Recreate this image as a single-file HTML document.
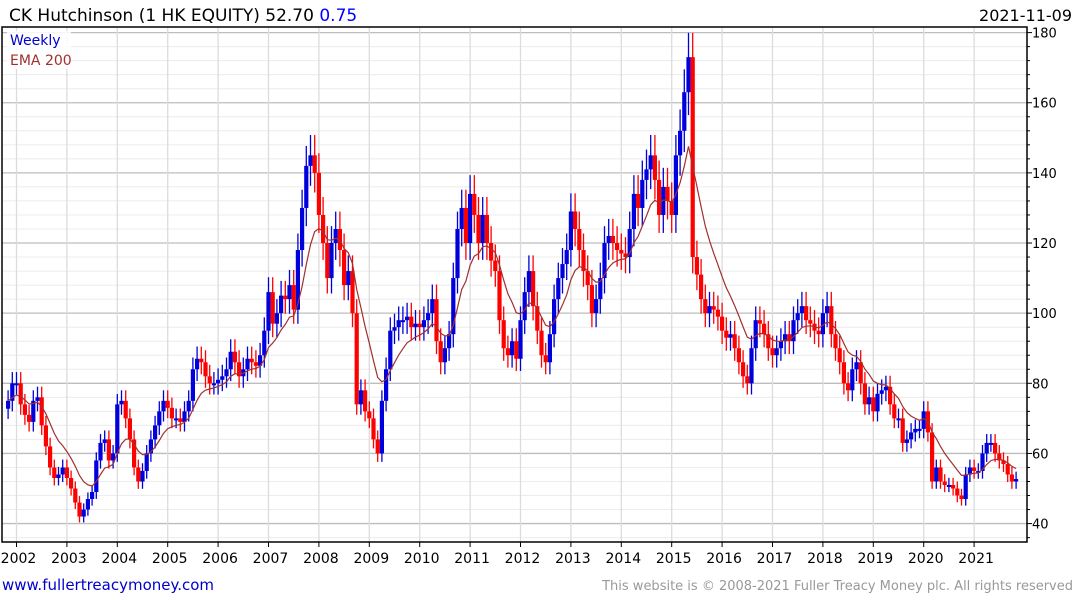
<!DOCTYPE html>
<html><head><meta charset="utf-8"><style>
body{margin:0;background:#fff;}
svg{display:block;font-family:"DejaVu Sans","Liberation Sans",sans-serif;}
</style></head><body>
<svg id="chart" width="1075" height="600" viewBox="0 0 1075 600" xmlns="http://www.w3.org/2000/svg">
<text x="9" y="21" font-size="17" fill="#000">CK Hutchinson (1 HK EQUITY) 52.70 <tspan fill="#0000ff">0.75</tspan></text>
<text x="1072" y="21" font-size="16" text-anchor="end" fill="#000">2021-11-09</text>
<g id="grid"></g>
<g id="bars"></g>
<g id="ema"></g>
<g id="axes"></g>
<rect x="7" y="31" width="64" height="38" fill="#fff" opacity="0.85"/>
<text x="10" y="45" font-size="14" fill="#0000cc">Weekly</text>
<text x="10" y="65" font-size="14" fill="#a03030">EMA 200</text>
<text x="2" y="590" font-size="15" fill="#0000cc">www.fullertreacymoney.com</text>
<text x="1073" y="590" font-size="13" text-anchor="end" fill="#999">This website is © 2008-2021 Fuller Treacy Money plc. All rights reserved</text>
</svg>
<script>
// monthly closes from Nov 2001 to Nov 2021
const startYear = 2001, startMonth = 10; // Nov (0-based)
const closes = [
75,80,
80,74,71,69,75,76,68,62,56,53,54,56,
53,50,46,42,44,47,49,58,63,64,58,60,
74,75,70,64,56,52,55,60,64,68,72,75,
73,70,70,69,72,75,84,87,86,82,80,80,
81,82,84,89,86,82,84,87,86,85,88,95,
106,97,100,105,104,108,101,118,130,142,145,140,
128,120,110,120,124,118,108,112,100,74,78,72,
70,64,60,75,84,95,96,98,98,99,96,97,
96,98,100,104,92,86,90,94,110,124,130,120,
134,128,120,128,120,115,112,98,90,88,92,87,
98,106,112,102,95,88,86,94,104,110,114,118,
129,124,118,112,108,100,104,110,120,122,120,118,
117,116,124,134,130,138,141,145,138,128,136,132,
128,145,152,163,173,116,111,104,100,102,101,99,
95,93,94,90,86,82,80,90,98,97,94,90,
88,90,92,94,92,98,100,102,98,97,95,94,
100,102,94,90,86,80,78,84,86,80,74,76,
72,77,78,79,74,70,70,63,64,66,67,67,
72,66,52,56,52,51,51,50,48,47,54,56,
55,55,60,63,63,60,58,57,54,52,52.7
];
const yTicks = [40,60,80,100,120,140,160,180];
const yearLabels = ["2002","2003","2004","2005","2006","2007","2008","2009","2010","2011","2012","2013","2014","2015","2016","2017","2018","2019","2020","2021"];
const emaPeriod = 10;

const NS="http://www.w3.org/2000/svg";
const L=2,R=1027,T=27,B=542;
function xT(t){return 16.5+(t-2002)*50.4;}
function yV(v){return 32.6+(180-v)*3.507;}
function mk(tag,attrs,parent){const e=document.createElementNS(NS,tag);for(const k in attrs)e.setAttribute(k,attrs[k]);parent.appendChild(e);return e;}
const grid=document.getElementById('grid'),bars=document.getElementById('bars'),ema=document.getElementById('ema'),axes=document.getElementById('axes');

for(let v=36;v<=180;v+=4){
  const major=(v%20===0);
  const ln=mk('line',{x1:L,x2:R,y1:yV(v),y2:yV(v),stroke:major?'#bdbdbd':'#ececec','stroke-width':major?1.3:1},grid);
  
  
  const tk=mk('line',{x1:R,x2:R+(major?5:3),y1:yV(v),y2:yV(v),stroke:'#000'},axes);
  
  
}
yTicks.forEach(v=>{
  const t=mk('text',{x:R+5,y:yV(v)+5,'font-size':13,fill:'#000'},axes);t.textContent=v;
  
  
});
yearLabels.forEach(lbl=>{
  const x=xT(+lbl);
  const g=mk('line',{x1:x,x2:x,y1:T,y2:B,stroke:'#dcdcdc','stroke-width':1.3},grid);
  
  
  const tk=mk('line',{x1:x,x2:x,y1:B,y2:B+5,stroke:'#000'},axes);
  
  
  const t=mk('text',{x:x+2,y:563,'font-size':14,'text-anchor':'middle',fill:'#000'},axes);t.textContent=lbl;
  
  
});
const fr=mk('path',{d:`M${L} ${T}H${R}V${B}H${L}Z`,fill:'none',stroke:'#000','stroke-width':1.5},axes);



// bars
let prev=closes[0];
closes.forEach((c,i)=>{
  const t=startYear+(startMonth+i)/12;
  const x=xT(t);
  const o=i===0?c*0.97:prev;
  const up=c>=o;
  const col=up?'#0000dd':'#ff0000';
  const hi=Math.max(o,c)*1.04, lo=Math.min(o,c)*0.96;
  const w=mk('line',{x1:x,x2:x,y1:yV(hi),y2:yV(lo),stroke:col,'stroke-width':1.3},bars);
  
  
  const y1=yV(Math.max(o,c)),y2=yV(Math.min(o,c));
  const b=mk('rect',{x:x-2.1,y:y1,width:4.2,height:Math.max(2,y2-y1),fill:col},bars);
  
  
  prev=c;
});
// EMA
const a=2/(emaPeriod+1);let e=closes[0];let d='';
closes.forEach((c,i)=>{e=i===0?c:e+a*(c-e);const x=xT(startYear+(startMonth+i)/12);d+=(i?'L':'M')+x.toFixed(1)+' '+yV(e).toFixed(1);});
const p=mk('path',{d:d,fill:'none',stroke:'#a03030','stroke-width':1.2},ema);


</script>
</body></html>
